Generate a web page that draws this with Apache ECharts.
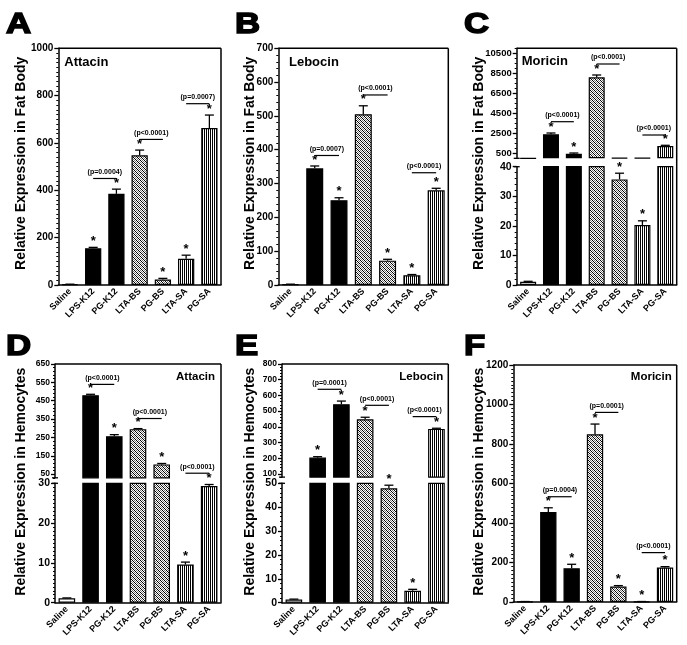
<!DOCTYPE html>
<html><head><meta charset="utf-8">
<script src="https://cdn.jsdelivr.net/npm/echarts@6/dist/echarts.min.js"></script>
<style>html,body{margin:0;padding:0;background:#fff}#c{width:687px;height:645px}</style>
</head><body><div id="c"></div>
<script>
// ---------------- DATA ----------------
const categories = ['Saline','LPS-K12','PG-K12','LTA-BS','PG-BS','LTA-SA','PG-SA'];
const significant = [0,1,1,1,1,1,1];

// A: Attacin, fat body
const attacinFatMean = [3,155,385,548,23,111,663];
const attacinFatErr  = [0.5,4,20,22,5,15,55];
const attacinFatTicks = [0,200,400,600,800,1000];
const attacinFatBrackets = [[1,2,450,'(p=0.0004)'],[3,4,615,'(p<0.0001)'],[5,6,766,'(p=0.0007)']];

// B: Lebocin, fat body
const lebocinFatMean = [2,345,251,505,72,29,280];
const lebocinFatErr  = [0.5,7,7,25,4,2,6];
const lebocinFatTicks = [0,100,200,300,400,500,600,700];
const lebocinFatBrackets = [[1,2,383,'(p=0.0007)'],[3,4,562,'(p<0.0001)'],[5,6,332,'(p<0.0001)']];

// C: Moricin, fat body (broken axis)
const moricinFatMean = [1.1,2400,450,8100,35.7,20.3,1230];
const moricinFatErr  = [0.15,130,80,230,2.1,1.4,70];
const moricinFatTicksUpper = [500,2500,4500,6500,8500,10500];
const moricinFatTicksLower = [0,10,20,30,40];
const moricinFatBrackets = [[1,2,3660,'(p<0.0001)'],[3,4,9430,'(p<0.0001)'],[5,6,2330,'(p<0.0001)']];

// D: Attacin, hemocytes (broken axis)
const attacinHemoMean = [1.1,480,257,295,103,9.6,29.3];
const attacinHemoErr  = [0.1,5,8,3,5,0.6,0.4];
const attacinHemoTicksUpper = [50,150,250,350,450,550,650];
const attacinHemoTicksLower = [0,10,20,30];
const attacinHemoBrackets = [[1,2,539,'(p<0.0001)'],[3,4,353,'(p<0.0001)'],[5,6,55,'(p<0.0001)']];

// E: Lebocin, hemocytes (broken axis)
const lebocinHemoMean = [1.3,204,544,448,47.9,5.0,387];
const lebocinHemoErr  = [0.2,6,20,13,1.3,0.6,4];
const lebocinHemoTicksUpper = [100,200,300,400,500,600,700,800];
const lebocinHemoTicksLower = [0,10,20,30,40,50];
const lebocinHemoBrackets = [[1,2,639,'(p=0.0001)'],[3,4,537,'(p<0.0001)'],[5,6,465,'(p<0.0001)']];

// F: Moricin, hemocytes
const moricinHemoMean = [2,456,171,849,78,2,175];
const moricinHemoErr  = [0.5,21,20,52,5,0.5,4];
const moricinHemoTicks = [0,200,400,600,800,1000,1200];
const moricinHemoBrackets = [[1,2,533,'(p=0.0004)'],[3,4,960,'(p=0.0001)'],[5,6,250,'(p<0.0001)']];

// ---------------- STYLE / LAYOUT ----------------
const FONT = '"Liberation Sans", Arial, Helvetica, sans-serif';
function makeHatch(){
  const c=document.createElement('canvas');c.width=4;c.height=4;
  const g=c.getContext('2d');g.fillStyle='#fff';g.fillRect(0,0,4,4);
  for(let i=0;i<4;i++){g.fillStyle='#000';g.fillRect(i,i,1,1);g.fillStyle='#777';g.fillRect(i,(i+2)%4,1,1);}
  return c;
}
function makeStripe(){
  const c=document.createElement('canvas');c.width=2;c.height=2;
  const g=c.getContext('2d');g.fillStyle='#fff';g.fillRect(0,0,2,2);
  g.fillStyle='#000';g.fillRect(0,0,1,2);
  return c;
}
const hatch={image:makeHatch(),repeat:'repeat'};
const stripe={image:makeStripe(),repeat:'repeat'};
const fills=['#ffffff','#000000','#000000',hatch,hatch,stripe,stripe];

const panels=[
 {letter:'A',letterPos:[6,25],mean:attacinFatMean,err:attacinFatErr,brackets:attacinFatBrackets,
  left:58.3,right:221,title:'Attacin',titlePos:[64.3,62],titleAlign:'left',titleSize:13,
  yTitle:'Relative Expression in Fat Body',yTitlePos:[20.7,163.3],
  segs:[{top:48.3,bottom:285,min:0,max:1000,ticks:attacinFatTicks,minor:20,label:10}]},
 {letter:'B',letterPos:[235,25],mean:lebocinFatMean,err:lebocinFatErr,brackets:lebocinFatBrackets,
  left:278.3,right:448.3,title:'Lebocin',titlePos:[289,62],titleAlign:'left',titleSize:13,
  yTitle:'Relative Expression in Fat Body',yTitlePos:[249.7,163.3],
  segs:[{top:48.3,bottom:285,min:0,max:700,ticks:lebocinFatTicks,minor:20,label:10}]},
 {letter:'C',letterPos:[464,25],mean:moricinFatMean,err:moricinFatErr,brackets:moricinFatBrackets,
  left:516.7,right:676.7,title:'Moricin',titlePos:[521.7,61],titleAlign:'left',titleSize:13,
  yTitle:'Relative Expression in Fat Body',yTitlePos:[478.7,163.3],
  segs:[{top:48.3,bottom:158.3,min:0,max:11000,ticks:moricinFatTicksUpper,minor:500,label:9.5},
        {top:166.7,bottom:285,min:0,max:40,ticks:moricinFatTicksLower,minor:2,label:10.5}]},
 {letter:'D',letterPos:[6,346.5],mean:attacinHemoMean,err:attacinHemoErr,brackets:attacinHemoBrackets,
  left:55,right:221,title:'Attacin',titlePos:[215,377],titleAlign:'right',titleSize:11.5,
  yTitle:'Relative Expression in Hemocytes',yTitlePos:[20.7,481.7],
  segs:[{top:364,bottom:477.8,min:30,max:650,ticks:attacinHemoTicksUpper,minor:20,label:8.5},
        {top:483.3,bottom:602.7,min:0,max:30,ticks:attacinHemoTicksLower,minor:1,label:10.5}]},
 {letter:'E',letterPos:[235,346.5],mean:lebocinHemoMean,err:lebocinHemoErr,brackets:lebocinHemoBrackets,
  left:282,right:448.3,title:'Lebocin',titlePos:[443.3,377],titleAlign:'right',titleSize:11.5,
  yTitle:'Relative Expression in Hemocytes',yTitlePos:[249.7,481.7],
  segs:[{top:364,bottom:477.1,min:80,max:800,ticks:lebocinHemoTicksUpper,minor:20,label:8.5},
        {top:483.3,bottom:602.7,min:0,max:50,ticks:lebocinHemoTicksLower,minor:2,label:10.5}]},
 {letter:'F',letterPos:[464,346.5],mean:moricinHemoMean,err:moricinHemoErr,brackets:moricinHemoBrackets,
  left:513.3,right:676.7,title:'Moricin',titlePos:[671.7,377],titleAlign:'right',titleSize:11.5,
  yTitle:'Relative Expression in Hemocytes',yTitlePos:[478.7,481.7],
  segs:[{top:365,bottom:602,min:0,max:1200,ticks:moricinHemoTicks,minor:20,label:10}]}
];

// ---------------- BUILD ----------------
function errRender(params, api){
  const i=api.value(0), m=api.value(1), e=api.value(2), s=api.value(3);
  const p0=api.coord([i,m]), p1=api.coord([i,m+e]);
  const x=p0[0];
  const ch=[
    {type:'line',shape:{x1:x,y1:p0[1],x2:x,y2:p1[1]},style:{stroke:'#000',lineWidth:1.3}},
    {type:'line',shape:{x1:x-4.5,y1:p1[1],x2:x+4.5,y2:p1[1]},style:{stroke:'#000',lineWidth:1.3}}
  ];
  if(s) ch.push({type:'text',x:x,y:p1[1]+0.5,style:{text:'*',font:'bold 13px '+FONT,fill:'#000',align:'center',verticalAlign:'bottom'}});
  return {type:'group',children:ch};
}
function bracketRender(brackets){
  return function(params, api){
    const b=brackets[params.dataIndex];
    const a=api.coord([b[0],b[2]]), c=api.coord([b[1],b[2]]);
    return {type:'group',children:[
      {type:'line',shape:{x1:a[0],y1:a[1],x2:c[0],y2:c[1]},style:{stroke:'#000',lineWidth:1.2}},
      {type:'text',x:(a[0]+c[0])/2,y:a[1]-3,style:{text:b[3],font:'bold 7px '+FONT,fill:'#000',align:'center',verticalAlign:'bottom'}}
    ]};
  };
}

const option={animation:false,backgroundColor:'#fff',grid:[],xAxis:[],yAxis:[],series:[],graphic:[]};
const G=option.graphic;
function gline(x1,y1,x2,y2,w){G.push({type:'line',silent:true,shape:{x1,y1,x2,y2},style:{stroke:'#000',lineWidth:w||1.5}});}
function gtext(x,y,text,font,align,vAlign,rot,extra,scaleX){
  G.push({type:'text',silent:true,x,y,rotation:rot||0,scaleX:scaleX||1,style:Object.assign({text,font,fill:'#000',align,verticalAlign:vAlign},extra||{})});
}

panels.forEach(p=>{
  const segs=p.segs;
  segs.forEach((s,k)=>{
    const gi=option.grid.length;
    option.grid.push({left:p.left,top:s.top,width:p.right-p.left,height:s.bottom-s.top,show:false,containLabel:false,outerBoundsMode:'none'});
    const isBottom=k===segs.length-1;
    option.xAxis.push({type:'category',gridIndex:gi,data:categories,show:isBottom,
      axisLine:{onZero:false,lineStyle:{color:'#000',width:1.5}},axisTick:{show:false},
      axisLabel:{rotate:45,interval:0,margin:5,color:'#000',fontSize:9,fontWeight:'bold',fontFamily:FONT},
      splitLine:{show:false}});
    const yi=option.yAxis.length;
    const minorVals=[];for(let v=s.min;v<=s.max+1e-9;v+=s.minor)minorVals.push(+v.toFixed(6));
    option.yAxis.push({type:'value',gridIndex:gi,position:'left',offset:0,min:s.min,max:s.max,
      axisLine:{show:true,lineStyle:{color:'#000',width:1.5}},
      axisTick:{show:true,length:4,customValues:s.ticks,lineStyle:{color:'#000',width:1.3}},
      axisLabel:{customValues:s.ticks,formatter:v=>String(v),color:'#000',fontSize:s.label,fontWeight:'bold',fontFamily:FONT,margin:5},
      splitLine:{show:false}});
    option.yAxis.push({type:'value',gridIndex:gi,position:'left',offset:0,min:s.min,max:s.max,
      axisLine:{show:false},axisLabel:{show:false},splitLine:{show:false},
      axisTick:{show:true,length:2,customValues:minorVals,lineStyle:{color:'#000',width:1}}});
    option.series.push({type:'bar',xAxisIndex:gi,yAxisIndex:yi,barWidth:'70%',clip:true,silent:true,
      data:p.mean.map((v,i)=>({value:v,itemStyle:{color:fills[i],borderColor:'#000',borderWidth:1.2}}))});
    const segFor=v=> segs.length===1?0:(v>segs[1].max?0:1);
    const errData=p.mean.map((v,i)=>[i,v,p.err[i],significant[i]]).filter(d=>segFor(d[1])===k);
    option.series.push({type:'custom',xAxisIndex:gi,yAxisIndex:yi,z:5,clip:false,silent:true,
      encode:{x:0,y:1},data:errData,renderItem:errRender});
    if(k===0){
      option.series.push({type:'custom',xAxisIndex:gi,yAxisIndex:yi,z:5,clip:false,silent:true,
        encode:{x:0,y:1},data:p.brackets.map(b=>[b[0],b[2]]),renderItem:bracketRender(p.brackets)});
    }
  });
  const top=segs[0].top, bot=segs[segs.length-1].bottom;
  gline(p.left,top,p.right,top);
  gline(p.right,top,p.right,bot);
  if(segs.length>1){
    gline(p.left-3,segs[0].bottom,p.left+3,segs[0].bottom,1.3);
    gline(p.left-3,segs[1].top,p.left+3,segs[1].top,1.3);
  }
  gtext(p.titlePos[0],p.titlePos[1],p.title,'bold '+p.titleSize+'px '+FONT,p.titleAlign,'middle');
  gtext(p.yTitlePos[0],p.yTitlePos[1],p.yTitle,'bold 14px '+FONT,'center','middle',Math.PI/2);
  gtext(p.letterPos[0],p.letterPos[1],p.letter,'bold 29px '+FONT,'left','middle',0,{stroke:'#000',lineWidth:1.5},1.2);
});

const chart=echarts.init(document.getElementById('c'),null,{renderer:'canvas'});
chart.setOption(option);
</script>
</body></html>
